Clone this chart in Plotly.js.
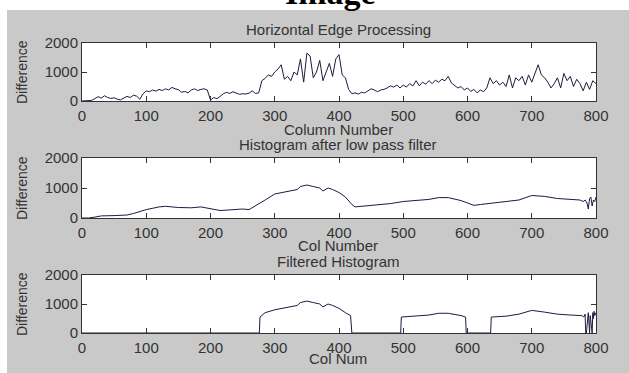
<!DOCTYPE html>
<html>
<head>
<meta charset="utf-8">
<script src="https://cdn.plot.ly/plotly-3.0.1.min.js"></script>
<style>html,body{margin:0;padding:0;background:#fff;}#chart{width:629px;height:373px;}</style>
</head>
<body>
<div id="chart"></div>
<script>
// ---- Data ----
const xTicks = [0, 100, 200, 300, 400, 500, 600, 700, 800];
const yTicks = [0, 1000, 2000];

// Panel 1: Horizontal Edge Processing (column step 5)
const edgeCols = [];
for (let c = 0; c <= 800; c += 5) edgeCols.push(c);
const edgeDiff = [
  0, 0, 0, 20, 80, 150, 100, 180, 120, 90,
  110, 60, 40, 90, 160, 120, 200, 170, 60, 250,
  350, 320, 380, 340, 400, 360, 420, 380, 470, 420,
  390, 300, 330, 280, 380, 420, 360, 400, 420, 380,
  30, 120, 80, 160, 250, 300, 260, 320, 280, 230,
  250, 240, 270, 350, 260, 280, 700, 780, 900, 850,
  1000, 1100, 1250, 750, 850, 700, 1000, 900, 1450, 650,
  1650, 1550, 800, 1000, 1400, 700, 1000, 1300, 850, 1450,
  1600, 900, 800, 400, 250, 280, 240, 300, 280, 350,
  420, 380, 320, 380, 400, 450, 520, 480, 550, 450,
  550, 480, 600, 520, 700, 520, 650, 580, 700, 600,
  720, 650, 750, 700, 850, 620, 550, 450, 500, 380,
  450, 330, 400, 280, 380, 320, 450, 800, 600, 700,
  550, 650, 500, 900, 450, 800, 700, 850, 550, 900,
  650, 950, 1250, 900, 800, 650, 450, 600, 800, 450,
  950, 700, 850, 500, 750, 600, 350, 650, 400, 700,
  600
];

// Panel 2: Histogram after low pass filter
const lowCols = [0, 10, 20, 30, 50, 70, 80, 100, 120, 130, 150, 170, 185, 200, 215, 230, 250, 260, 270, 285,
  300, 320, 335, 340, 350, 360, 370, 375, 383, 390, 400, 410, 420, 425, 440, 460, 480, 500, 520, 540,
  555, 570, 590, 610, 620, 640, 660, 680, 700, 720, 740, 760, 775, 780, 783, 786, 788, 790, 792, 794, 796, 798, 800];
const lowDiff = [0, 0, 30, 70, 80, 100, 150, 280, 370, 390, 350, 340, 370, 300, 250, 270, 300, 280, 400, 600,
  800, 900, 950, 1050, 1100, 1050, 1000, 900, 1000, 950, 850, 700, 450, 370, 400, 450, 480, 550, 580, 620,
  680, 680, 580, 420, 450, 500, 550, 600, 750, 720, 650, 620, 600, 550, 600, 500, 300, 650, 700, 400, 600, 550, 700];

// Panel 3: Filtered Histogram
const filtCols = [0, 276, 277, 285, 300, 320, 335, 340, 350, 360, 370, 375, 383, 390, 400, 410, 418, 420, 421,
  496, 497, 520, 540, 555, 570, 590, 597, 598,
  636, 637, 660, 680, 700, 720, 740, 760, 778, 781, 783, 784, 785, 788, 789, 790, 791, 793, 794, 795, 796, 797, 798, 800];
const filtDiff = [0, 0, 550, 700, 800, 900, 950, 1050, 1100, 1050, 1000, 900, 1000, 950, 850, 700, 600, 0, 0,
  0, 550, 580, 620, 680, 680, 600, 550, 0,
  0, 550, 580, 650, 780, 720, 650, 620, 600, 550, 650, 0, 0, 700, 0, 0, 600, 0, 0, 700, 500, 750, 600, 700];

// ---- Layout helpers ----
const W = 629, H = 373;
const px = v => v / W;
const py = v => 1 - v / H;
const lineColor = '#1c1c40';
const textColor = '#333333';
const font = 'Liberation Sans, Arial, sans-serif';

function xAxis(anchor) {
  return {
    domain: [px(82), px(596)], range: [0, 800], tickvals: xTicks, ticks: 'inside', ticklen: 5,
    tickcolor: '#333', showline: true, linecolor: '#333', linewidth: 1, mirror: 'ticks',
    showgrid: false, zeroline: false, anchor: anchor, fixedrange: true, ticklabelstandoff: 1,
    tickfont: {family: font, size: 15, color: textColor}
  };
}
function yAxis(top, bottom, anchor) {
  return {
    domain: [py(bottom), py(top)], range: [0, 2000], tickvals: yTicks, ticks: 'inside', ticklen: 5,
    tickcolor: '#333', showline: true, linecolor: '#333', linewidth: 1, mirror: 'ticks',
    showgrid: false, zeroline: false, anchor: anchor, fixedrange: true,
    tickfont: {family: font, size: 15, color: textColor}
  };
}

const traces = [
  {x: edgeCols, y: edgeDiff, xaxis: 'x', yaxis: 'y', mode: 'lines', line: {color: lineColor, width: 1}, hoverinfo: 'skip'},
  {x: lowCols, y: lowDiff, xaxis: 'x2', yaxis: 'y2', mode: 'lines', line: {color: lineColor, width: 1}, hoverinfo: 'skip'},
  {x: filtCols, y: filtDiff, xaxis: 'x3', yaxis: 'y3', mode: 'lines', line: {color: lineColor, width: 1}, hoverinfo: 'skip'}
];

function ann(text, xp, yp, size, extra) {
  return Object.assign({text: text, xref: 'paper', yref: 'paper', x: px(xp), y: py(yp), xanchor: 'center', yanchor: 'middle',
    showarrow: false, font: {family: font, size: size, color: textColor}}, extra || {});
}

const layout = {
  width: W, height: H, margin: {l: 0, r: 0, t: 0, b: 0},
  paper_bgcolor: '#c9c9c9', plot_bgcolor: '#ffffff', showlegend: false,
  xaxis: xAxis('y'), yaxis: yAxis(43, 101, 'x'),
  xaxis2: xAxis('y2'), yaxis2: yAxis(158, 218, 'x2'),
  xaxis3: xAxis('y3'), yaxis3: yAxis(275, 333, 'x3'),
  shapes: [
    {type: 'rect', xref: 'paper', yref: 'paper', x0: 0, x1: px(7), y0: 0, y1: 1, fillcolor: '#ffffff', line: {width: 0}, layer: 'below'},
    {type: 'rect', xref: 'paper', yref: 'paper', x0: 0, x1: 1, y0: py(10), y1: 1, fillcolor: '#ffffff', line: {width: 0}, layer: 'below'}
  ],
  annotations: [
    ann('<b>Image</b>', 330, -7, 34, {font: {family: 'Liberation Serif, Times New Roman, serif', size: 34, color: '#000'}}),
    ann('Horizontal Edge Processing', 338, 29, 15),
    ann('Column Number', 338, 129, 15),
    ann('Histogram after low pass filter', 338, 144, 15),
    ann('Col Number', 338, 245, 15),
    ann('Filtered Histogram', 338, 261, 15),
    ann('Col Num', 338, 358, 15),
    ann('Difference', 22, 72, 14, {textangle: -90}),
    ann('Difference', 22, 188, 14, {textangle: -90}),
    ann('Difference', 22, 304, 14, {textangle: -90})
  ]
};

Plotly.newPlot('chart', traces, layout, {displayModeBar: false, staticPlot: true});
</script>
</body>
</html>
